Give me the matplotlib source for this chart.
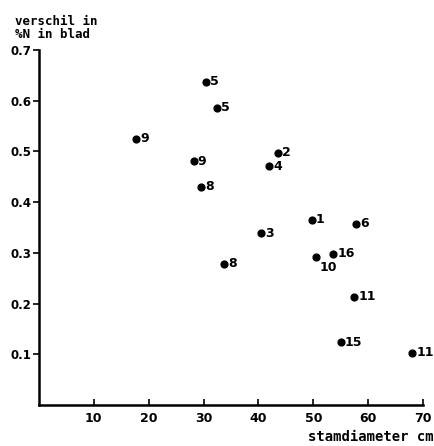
import matplotlib
matplotlib.use('Agg')
import matplotlib.pyplot as plt

# stamdiameter (cm) en verschil in %N in blad, met boomnummer
diameter = [30.5, 32.5, 17.7, 28.2, 29.6, 43.5, 41.9, 40.4, 49.7, 57.8,
            50.5, 53.6, 33.8, 57.4, 55.0, 68.0]
verschil = [0.637, 0.586, 0.525, 0.481, 0.430, 0.497, 0.471, 0.339, 0.365, 0.357,
            0.292, 0.298, 0.278, 0.213, 0.124, 0.103]
boom = ['5', '5', '9', '9', '8', '2', '4', '3', '1', '6',
        '10', '16', '8', '11', '15', '11']

xticks = [10, 20, 30, 40, 50, 60, 70]
yticks = [0.1, 0.2, 0.3, 0.4, 0.5, 0.6, 0.7]

plt.rcParams['font.family'] = ['DejaVu Sans']
plt.rcParams['font.weight'] = 'bold'

fig = plt.figure(figsize=(4.35, 4.46), dpi=100)
ax = fig.add_axes([0.089, 0.092, 0.884, 0.796])

ax.scatter(diameter, verschil, s=24, color='black', zorder=3)

for x, y, t in zip(diameter, verschil, boom):
    if t == '10':
        ax.annotate(t, (x, y), xytext=(2.5, -8), textcoords='offset points',
                    fontsize=9, fontweight='bold', va='center')
    else:
        ax.annotate(t, (x, y), xytext=(3, 0), textcoords='offset points',
                    fontsize=9, fontweight='bold', va='center')

ax.set_xlim(0, 70)
ax.set_ylim(0, 0.7)
ax.set_xticks(xticks)
ax.set_yticks(yticks)
ax.set_xticklabels([str(v) for v in xticks], fontsize=9, fontweight='bold')
ax.set_yticklabels(['%.1f' % v for v in yticks], fontsize=8.5, fontweight='bold')
ax.tick_params(axis='x', direction='in', length=4, width=1.2, pad=5)
ax.tick_params(axis='y', direction='out', length=4, width=1.2, pad=1.5)

for side in ['top', 'right']:
    ax.spines[side].set_visible(False)
for side in ['left', 'bottom']:
    ax.spines[side].set_linewidth(1.8)

fig.text(0.034, 0.937, 'verschil in\n%N in blad', fontsize=9,
         family='DejaVu Sans Mono', fontweight='bold',
         va='center', ha='left', linespacing=1.05)
fig.text(0.997, 0.021, 'stamdiameter cm', fontsize=10,
         family='DejaVu Sans Mono', fontweight='bold',
         ha='right', va='center')

fig.savefig('out.png', dpi=100)
